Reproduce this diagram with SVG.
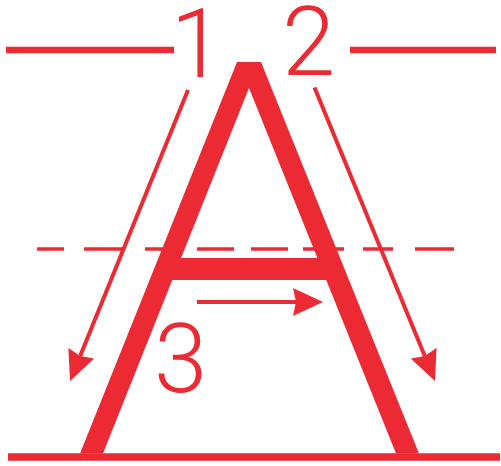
<svg xmlns="http://www.w3.org/2000/svg" width="501" height="466" viewBox="0 0 501 466">
<style>
.red{fill:#EC2A33}
.guide{stroke:#EC2A33;fill:none}
.arrow{stroke:#EC2A33;stroke-width:4;fill:none}
.num{fill:#EC2A33;font-family:Roboto,"Liberation Sans",sans-serif;font-weight:300;font-size:96px;text-anchor:middle}
</style>
<defs>
<marker id="head" markerUnits="userSpaceOnUse" viewBox="0 0 30 28" markerWidth="30" markerHeight="28" refX="3" refY="14" orient="auto">
<path d="M30,14 L0,0 L3,14 L0,28 Z" fill="#EC2A33"/>
</marker>
</defs>
<rect width="501" height="466" fill="#fff"/>
<g id="guides">
<line class="guide" x1="6" y1="50" x2="174" y2="50" stroke-width="6.6"/>
<line class="guide" x1="350" y1="50" x2="496" y2="50" stroke-width="6.6"/>
<line class="guide" x1="8" y1="457" x2="500" y2="457" stroke-width="7.4"/>
<g id="midline" class="guide" stroke-width="3.5">
<line x1="37" y1="249" x2="64" y2="249"/>
<line x1="84" y1="249" x2="123" y2="249"/>
<line x1="145" y1="249" x2="184" y2="249"/>
<line x1="197" y1="249" x2="234" y2="249"/>
<line x1="251" y1="249" x2="288" y2="249"/>
<line x1="303" y1="249" x2="344" y2="249"/>
<line x1="363" y1="249" x2="393" y2="249"/>
<line x1="415" y1="249" x2="454" y2="249"/>
</g>
</g>
<g id="letter-A">
<polygon class="red" points="80,453.5 237,62 261,62 419,453.5 396,453.5 249,88 103,453.5"/>
<rect class="red" x="168" y="258" width="166" height="22"/>
</g>
<g id="connectors">
<line id="stroke1" class="arrow" x1="188" y1="90" x2="80.2" y2="356" marker-end="url(#head)"/>
<line id="stroke2" class="arrow" x1="314.5" y1="87.5" x2="424.75" y2="356" marker-end="url(#head)"/>
<line id="stroke3" class="arrow" x1="197" y1="302" x2="296" y2="302" marker-end="url(#head)"/>
</g>
<g id="labels">
<text id="label1" class="num" x="197" y="77">1</text>
<text id="label2" class="num" x="308.5" y="75">2</text>
<text id="label3" class="num" x="180.5" y="392">3</text>
</g>
</svg>
